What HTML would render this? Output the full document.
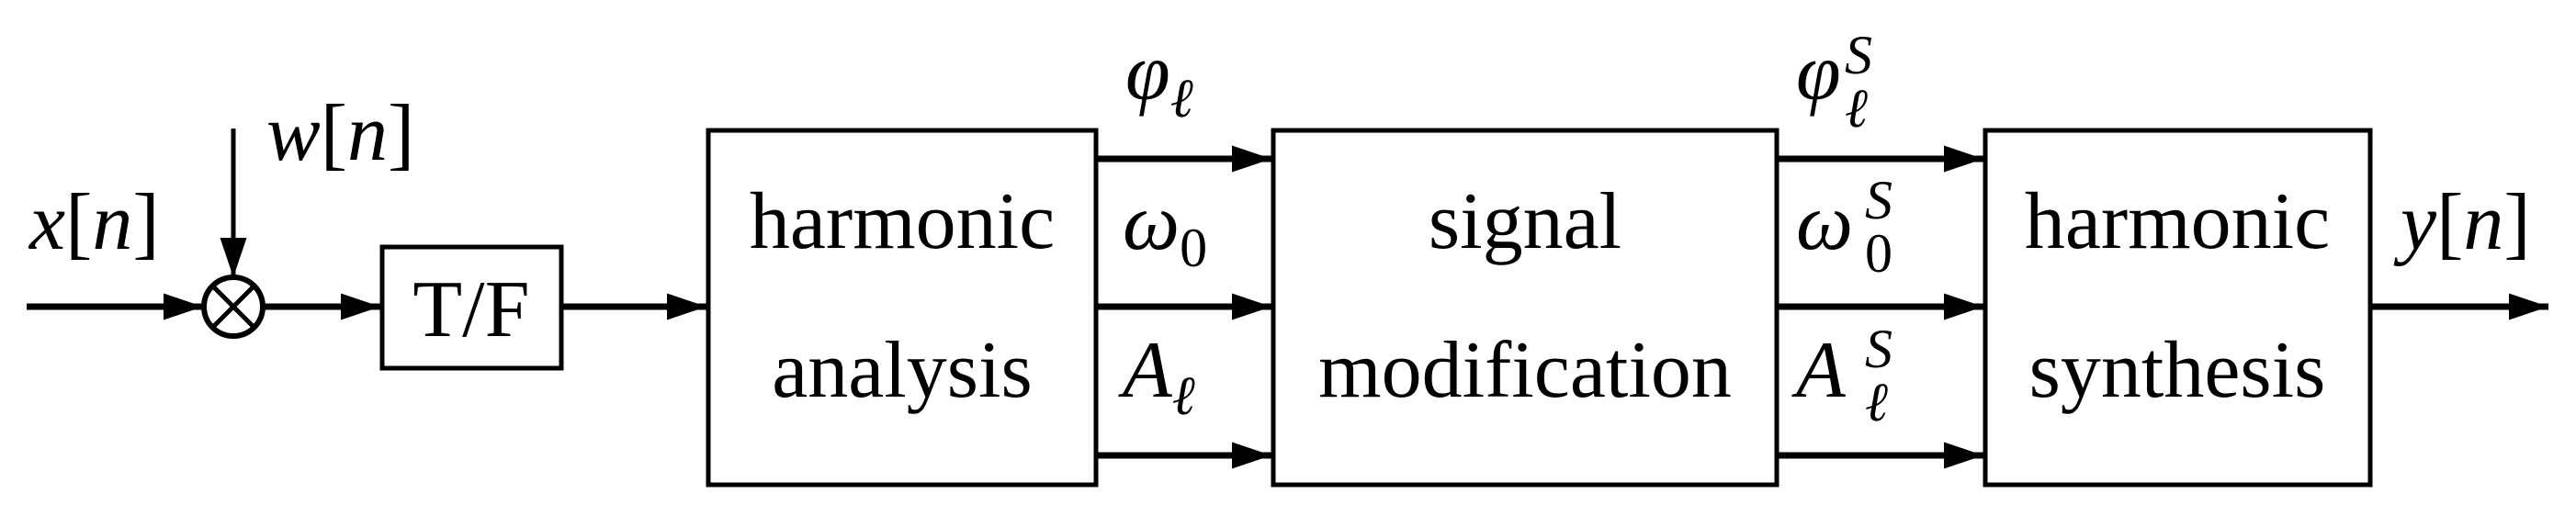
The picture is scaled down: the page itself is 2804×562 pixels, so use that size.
<!DOCTYPE html>
<html><head><meta charset="utf-8"><style>
html,body{margin:0;padding:0;background:#fff;}
svg{display:block;}
text{font-family:"Liberation Serif",serif;fill:#000;}
.it{font-style:italic;}
</style></head><body>
<svg width="2804" height="562" viewBox="0 0 2804 562" xmlns="http://www.w3.org/2000/svg">
<defs>
<marker id="a" markerWidth="44" markerHeight="30" refX="43" refY="14.5" orient="auto" markerUnits="userSpaceOnUse">
<path d="M0,0 L43,14.5 L0,29 Z" fill="#000"/>
</marker>
</defs>
<g stroke="#000" stroke-width="5" fill="none">
<rect x="416" y="269" width="195" height="132"/>
<rect x="771" y="142" width="422" height="386"/>
<rect x="1386" y="142" width="548" height="386"/>
<rect x="2161" y="142" width="419" height="386"/>
<circle cx="254" cy="334" r="32" stroke-width="6"/>
<line x1="232" y1="312" x2="276" y2="356" stroke-width="5"/>
<line x1="276" y1="312" x2="232" y2="356" stroke-width="5"/>
<g stroke-width="7">
<line x1="29" y1="334" x2="221" y2="334" marker-end="url(#a)"/>
<line x1="287" y1="334" x2="414" y2="334" marker-end="url(#a)"/>
<line x1="611" y1="334" x2="769" y2="334" marker-end="url(#a)"/>
<line x1="1193" y1="173" x2="1384" y2="173" marker-end="url(#a)"/>
<line x1="1193" y1="334" x2="1384" y2="334" marker-end="url(#a)"/>
<line x1="1193" y1="496" x2="1384" y2="496" marker-end="url(#a)"/>
<line x1="1934" y1="173" x2="2159" y2="173" marker-end="url(#a)"/>
<line x1="1934" y1="334" x2="2159" y2="334" marker-end="url(#a)"/>
<line x1="1934" y1="496" x2="2159" y2="496" marker-end="url(#a)"/>
<line x1="2580" y1="334" x2="2774" y2="334" marker-end="url(#a)"/>
</g>
<line x1="254" y1="140" x2="254" y2="302" stroke-width="5" marker-end="url(#a)"/>
</g>
<g font-size="88" text-anchor="middle">
<text x="513" y="366">T/F</text>
<text x="982" y="270">harmonic</text>
<text x="982" y="432">analysis</text>
<text x="1660" y="270">signal</text>
<text x="1660" y="432">modification</text>
<text x="2370" y="270">harmonic</text>
<text x="2370" y="432">synthesis</text>
</g>
<g font-size="88">
<text x="32" y="271"><tspan class="it">x</tspan>[<tspan class="it">n</tspan>]</text>
<text x="290" y="174"><tspan class="it">w</tspan>[<tspan class="it">n</tspan>]</text>
<text x="2613" y="271"><tspan class="it">y</tspan>[<tspan class="it">n</tspan>]</text>
<text x="1225" y="108" class="it">φ<tspan font-size="60" dy="19">ℓ</tspan></text>
<text x="1222" y="271" class="it">ω<tspan font-size="60" dy="19" font-style="normal">0</tspan></text>
<text x="1222" y="432" class="it">A<tspan font-size="60" dy="19">ℓ</tspan></text>
<text x="1955" y="108" class="it">φ</text>
<text x="2008" y="80" font-size="60" class="it">S</text>
<text x="2008" y="138" font-size="60" class="it">ℓ</text>
<text x="1955" y="271" class="it">ω</text>
<text x="2030" y="238" font-size="60" class="it">S</text>
<text x="2030" y="296" font-size="60">0</text>
<text x="1955" y="432" class="it">A</text>
<text x="2030" y="400" font-size="60" class="it">S</text>
<text x="2030" y="458" font-size="60" class="it">ℓ</text>
</g>
</svg>
</body></html>
